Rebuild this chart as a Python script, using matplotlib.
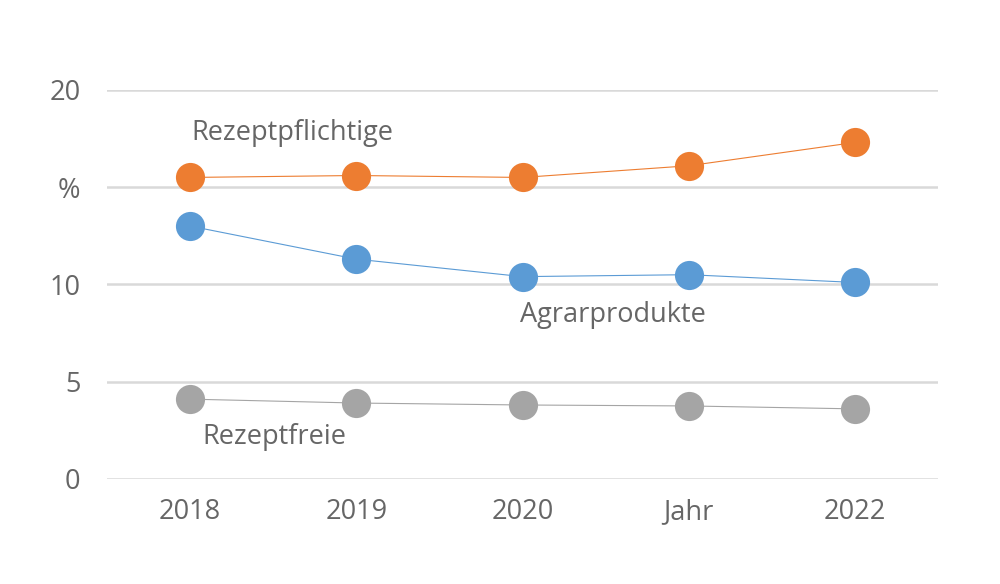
import matplotlib
matplotlib.use('Agg')
import matplotlib.pyplot as plt

# ===== 数据 =====
categories = ['2018', '2019', '2020', 'Jahr', '2022']
rezeptpflichtige = [15.5, 15.6, 15.5, 16.1, 17.3]
agrarprodukte = [13.0, 11.3, 10.4, 10.5, 10.1]
rezeptfreie = [4.1, 3.9, 3.8, 3.75, 3.6]
y_ticks = [0, 5, 10, 15, 20]
y_ticklabels = ['0', '5', '10', '%', '20']

plt.rcParams['font.family'] = ['Open Sans', 'DejaVu Sans']
TEXT_COLOR = '#666666'

fig = plt.figure(figsize=(10, 5.84), dpi=100)
ax = fig.add_axes([0.107, 0.180, 0.831, 0.666])

x = range(len(categories))
series = [
    (rezeptpflichtige, '#ED7D31'),
    (agrarprodukte, '#5B9BD5'),
    (rezeptfreie, '#A5A5A5'),
]
for vals, col in series:
    ax.plot(x, vals, color=col, linewidth=0.8, marker='o', markersize=21,
            markeredgewidth=0, zorder=3)

ax.set_xlim(-0.5, 4.5)
ax.set_ylim(0, 20)
ax.set_yticks(y_ticks)
ax.set_yticklabels(y_ticklabels)
ax.set_xticks(list(x))
ax.set_xticklabels(categories)
ax.tick_params(axis='both', length=0, labelsize=19.5, labelcolor=TEXT_COLOR)
ax.tick_params(axis='y', pad=19)
ax.tick_params(axis='x', pad=14)
ax.grid(True, axis='y', color='#D9D9D9', linewidth=1.8)
ax.set_axisbelow(True)
for s in ax.spines.values():
    s.set_visible(False)

ax.text(0.613, 17.8, 'Rezeptpflichtige', ha='center', va='center',
        fontsize=19.5, color=TEXT_COLOR)
ax.text(2.545, 8.43, 'Agrarprodukte', ha='center', va='center',
        fontsize=19.5, color=TEXT_COLOR)
ax.text(0.51, 2.16, 'Rezeptfreie', ha='center', va='center',
        fontsize=19.5, color=TEXT_COLOR)

plt.savefig('out.png', dpi=100)
